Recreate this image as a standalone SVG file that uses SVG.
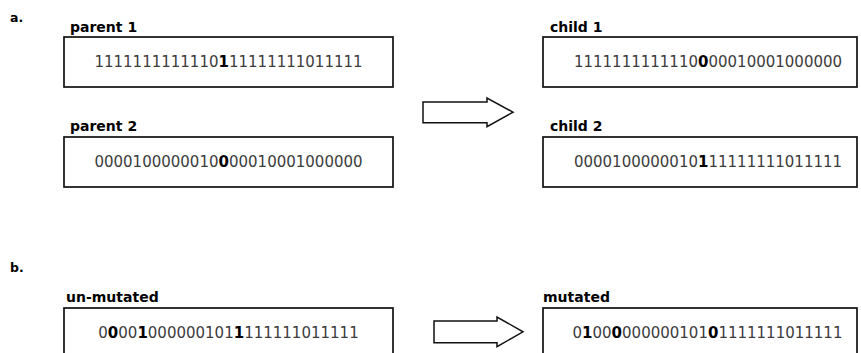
<svg xmlns="http://www.w3.org/2000/svg" width="861" height="353" viewBox="0 0 861 353">
<style>
.box{fill:#fff;stroke:#111;stroke-width:1.7}
.lbl{font-family:"DejaVu Sans",Verdana,sans-serif;font-weight:bold;font-size:14px;fill:#000}
.sec{font-family:"DejaVu Sans",Verdana,sans-serif;font-weight:bold;font-size:12.5px;fill:#000}
.bits{font-family:"DejaVu Sans",Verdana,sans-serif;font-size:15px;fill:#3c3c3c}
.b{font-weight:bold;fill:#000}
.arrow{fill:#fff;stroke:#111;stroke-width:1.5;stroke-linejoin:miter}
</style>
<rect width="861" height="353" fill="#fff"/>
<text class="sec" x="10" y="22">a.</text>
<text class="sec" x="10" y="272">b.</text>

<g id="parent1">
<text class="lbl" x="70" y="32">parent 1</text>
<rect class="box" x="64" y="37" width="329" height="50"/>
<text class="bits" x="228.5" y="67" text-anchor="middle">1111111111110<tspan class="b">1</tspan>11111111011111</text>
</g>
<g id="parent2">
<text class="lbl" x="70" y="131">parent 2</text>
<rect class="box" x="64" y="137" width="329" height="50"/>
<text class="bits" x="228.5" y="167" text-anchor="middle">0000100000010<tspan class="b">0</tspan>00010001000000</text>
</g>
<g id="child1">
<text class="lbl" x="550" y="32">child 1</text>
<rect class="box" x="543" y="37" width="314" height="50"/>
<text class="bits" x="708" y="67" text-anchor="middle">1111111111110<tspan class="b">0</tspan>00010001000000</text>
</g>
<g id="child2">
<text class="lbl" x="550" y="131">child 2</text>
<rect class="box" x="543" y="137" width="314" height="50"/>
<text class="bits" x="708" y="167" text-anchor="middle">0000100000010<tspan class="b">1</tspan>11111111011111</text>
</g>
<g id="unmutated">
<text class="lbl" x="66" y="302">un-mutated</text>
<rect class="box" x="64" y="308" width="329" height="60"/>
<text class="bits" x="228.5" y="338" text-anchor="middle">0<tspan class="b">0</tspan>00<tspan class="b">1</tspan>000000101<tspan class="b">1</tspan>111111011111</text>
</g>
<g id="mutated">
<text class="lbl" x="543" y="302">mutated</text>
<rect class="box" x="543" y="308" width="314" height="60"/>
<text class="bits" x="707.5" y="338" text-anchor="middle">0<tspan class="b">1</tspan>00<tspan class="b">0</tspan>000000101<tspan class="b">0</tspan>1111111011111</text>
</g>

<g id="connectors">
<polygon class="arrow" points="423,102 487,102 487,98 513,112.2 487,126.7 487,122.7 423,122.7"/>
<polygon class="arrow" points="434,321 497,321 497,317 523,331.8 497,346.7 497,342.7 434,342.7"/>
</g>
</svg>
